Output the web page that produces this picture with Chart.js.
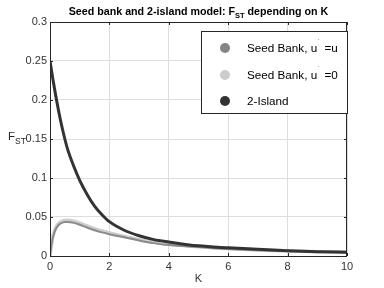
<!DOCTYPE html>
<html>
<head>
<meta charset="utf-8">
<script src="https://cdn.jsdelivr.net/npm/chart.js@4.4.0/dist/chart.umd.min.js"></script>
<style>
html,body{margin:0;padding:0;background:#fff;}
#wrap{width:384px;height:288px;}
</style>
</head>
<body>
<div id="wrap"><canvas id="c" width="384" height="288"></canvas></div>
<script>
// ---- data ----
const K = [0, 0.05, 0.1, 0.2, 0.3, 0.4, 0.5, 0.6, 0.8, 1.0, 1.25, 1.5, 1.75, 2, 2.5, 3, 3.5, 4, 5, 6, 7, 8, 9, 10];
const seedBankUU = [0, 0.014, 0.024, 0.035, 0.040, 0.0425, 0.0435, 0.0437, 0.0425, 0.040, 0.0365, 0.033, 0.0303, 0.028, 0.024, 0.020, 0.0165, 0.014, 0.0115, 0.009, 0.0075, 0.0063, 0.0054, 0.0047];
const seedBankU0 = [0, 0.015, 0.026, 0.037, 0.042, 0.0445, 0.0455, 0.0458, 0.0445, 0.042, 0.0385, 0.035, 0.032, 0.0295, 0.025, 0.021, 0.0175, 0.015, 0.012, 0.0095, 0.0078, 0.0065, 0.0056, 0.0048];
const twoIsland = [0.25, 0.238, 0.226, 0.204, 0.184, 0.166, 0.150, 0.136, 0.115, 0.097, 0.079, 0.064, 0.053, 0.044, 0.033, 0.026, 0.021, 0.018, 0.013, 0.0105, 0.0085, 0.0068, 0.0056, 0.0047];
const seriesLabels = ["Seed Bank, u' =u", "Seed Bank, u' =0", "2-Island"];
const xTicks = [0, 2, 4, 6, 8, 10];
const yTicks = ["0", "0.05", "0.1", "0.15", "0.2", "0.25", "0.3"];
const titleParts = ["Seed bank and 2-island model: F", "ST", " depending on K"];
const yLabelParts = ["F", "ST"];
const xLabel = "K";

const FONT = "'Liberation Sans', Arial, Helvetica, sans-serif";
const pts = arr => K.map((k, i) => ({x: k, y: arr[i]}));

const customPlugin = {
  id: 'matlabLook',
  afterDraw(chart) {
    const ctx = chart.ctx;
    const a = chart.chartArea;
    const xs = chart.scales.x, ys = chart.scales.y;
    ctx.save();
    // frame
    ctx.strokeStyle = '#262626';
    ctx.lineWidth = 1;
    ctx.strokeRect(Math.round(a.left) + 0.5, Math.round(a.top) + 0.5, Math.round(a.right - a.left) - 1, Math.round(a.bottom - a.top));
    // inward ticks
    ctx.beginPath();
    xTicks.forEach(v => {
      const px = Math.round(xs.getPixelForValue(v)) + 0.5;
      ctx.moveTo(px, a.bottom); ctx.lineTo(px, a.bottom - 3);
      ctx.moveTo(px, a.top); ctx.lineTo(px, a.top + 3);
    });
    yTicks.forEach(t => {
      const py = Math.round(ys.getPixelForValue(parseFloat(t))) + 0.5;
      ctx.moveTo(a.left, py); ctx.lineTo(a.left + 3, py);
      ctx.moveTo(a.right, py); ctx.lineTo(a.right - 3, py);
    });
    ctx.stroke();

    // title with subscript
    ctx.fillStyle = '#000';
    ctx.textBaseline = 'alphabetic';
    ctx.textAlign = 'left';
    const tf = 10.7, sf = 7.5;
    const bold = s => 'bold ' + s + 'px ' + FONT;
    ctx.font = bold(tf); const w1 = ctx.measureText(titleParts[0]).width;
    ctx.font = bold(sf); const w2 = ctx.measureText(titleParts[1]).width;
    ctx.font = bold(tf); const w3 = ctx.measureText(titleParts[2]).width;
    let tx = (a.left + a.right) / 2 - (w1 + w2 + w3) / 2;
    const tb = 14.5;
    ctx.font = bold(tf); ctx.fillText(titleParts[0], tx, tb); tx += w1;
    ctx.font = bold(sf); ctx.fillText(titleParts[1], tx, tb + 3); tx += w2;
    ctx.font = bold(tf); ctx.fillText(titleParts[2], tx, tb);

    // y label with subscript
    ctx.fillStyle = '#262626';
    ctx.font = '11.5px ' + FONT;
    const yb = ys.getPixelForValue(0.15);
    ctx.fillText(yLabelParts[0], 8, yb + 1);
    const fw = ctx.measureText(yLabelParts[0]).width;
    ctx.font = '8.5px ' + FONT;
    ctx.fillText(yLabelParts[1], 8 + fw, yb + 4.5);

    // legend box
    const lx = 201, ly = 31, lw = Math.round(a.right) - 201, lh = 82;
    ctx.fillStyle = '#fff';
    ctx.fillRect(lx, ly, lw, lh);
    ctx.strokeStyle = '#262626';
    ctx.strokeRect(lx + 0.5, ly + 0.5, lw, lh);
    const rows = [48, 75, 101];
    const markerColors = ['#858585', '#cccccc', '#333333'];
    chart.data.datasets.forEach((ds, i) => {
      ctx.fillStyle = markerColors[i];
      ctx.beginPath();
      ctx.arc(225, rows[i], 5, 0, Math.PI * 2);
      ctx.fill();
      ctx.fillStyle = '#000';
      ctx.font = '11.7px ' + FONT;
      ctx.textBaseline = 'middle';
      const parts = ds.label.split("'");
      let x = 247;
      ctx.fillText(parts[0], x, rows[i] + 1);
      x += ctx.measureText(parts[0]).width;
      if (parts.length > 1) {
        ctx.font = '8px ' + FONT;
        ctx.fillText('\u02D9', x + 0.5, rows[i] - 5);
        x += 4;
        ctx.font = '11.7px ' + FONT;
        ctx.fillText(parts[1], x, rows[i] + 1);
      }
    });
    ctx.restore();
  }
};

new Chart(document.getElementById('c'), {
  type: 'line',
  data: {
    datasets: [
      {label: seriesLabels[0], data: pts(seedBankUU), borderColor: '#8a8a8a', borderWidth: 2, order: 1},
      {label: seriesLabels[1], data: pts(seedBankU0), borderColor: '#cdcdcd', borderWidth: 3.5, order: 2},
      {label: seriesLabels[2], data: pts(twoIsland), borderColor: '#333333', borderWidth: 3, order: 0}
    ]
  },
  options: {
    responsive: false,
    animation: false,
    devicePixelRatio: 1,
    elements: {point: {radius: 0}, line: {cubicInterpolationMode: 'monotone'}},
    layout: {padding: {top: 22, right: 37, left: 0, bottom: 0}},
    plugins: {legend: {display: false}, title: {display: false}, tooltip: {enabled: false}},
    scales: {
      x: {
        type: 'linear', min: 0, max: 10,
        afterFit: s => { s.height = 32; },
        afterBuildTicks: s => { s.ticks = xTicks.map(v => ({value: v})); },
        grid: {color: '#dedede', drawTicks: false},
        border: {display: false},
        ticks: {color: '#333', font: {family: FONT, size: 11}, padding: 4, maxRotation: 0},
        title: {display: true, text: xLabel, color: '#333', font: {family: FONT, size: 11}, padding: {top: 0, bottom: 2}}
      },
      y: {
        type: 'linear', min: 0, max: 0.3,
        afterFit: s => { s.width = 50; },
        afterBuildTicks: s => { s.ticks = yTicks.map(t => ({value: parseFloat(t)})); },
        grid: {color: '#dedede', drawTicks: false},
        border: {display: false},
        ticks: {color: '#333', font: {family: FONT, size: 11}, padding: 3,
          callback: v => yTicks.find(t => Math.abs(parseFloat(t) - v) < 1e-9)}
      }
    }
  },
  plugins: [customPlugin]
});
</script>
</body>
</html>
